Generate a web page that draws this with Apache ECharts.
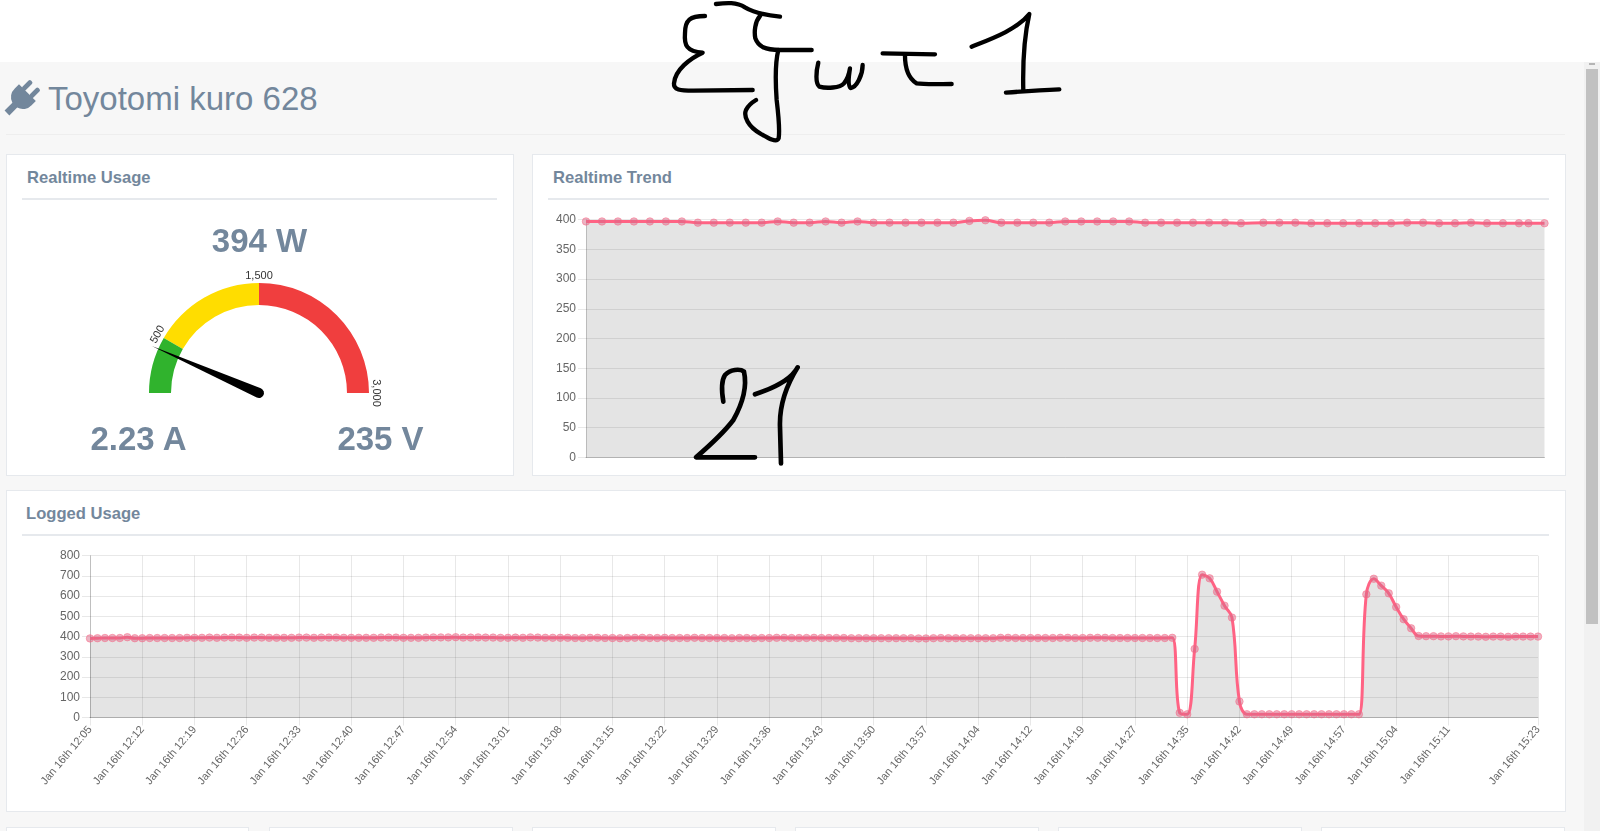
<!DOCTYPE html>
<html>
<head>
<meta charset="utf-8">
<title>Toyotomi kuro 628</title>
<script src="https://cdn.jsdelivr.net/npm/echarts@6/dist/echarts.min.js"></script>
<style>
  html, body { margin: 0; padding: 0; width: 1600px; height: 831px; overflow: hidden; background: #fff; }
  body { font-family: "Liberation Sans", Arial, sans-serif; color: #73879C; }
  .abs { position: absolute; }
  #bg { left: 0; top: 62px; width: 1584px; height: 769px; background: #F7F7F7; }
  #track { left: 1584px; top: 62px; width: 16px; height: 769px; background: #F1F1F1; }
  #thumb { left: 1586px; top: 69px; width: 12px; height: 555px; background: #C1C1C1; }
  #arrow { left: 1589px; top: 63px; width: 6px; height: 2px; background: #B5B5B5; }
  #heading { left: 48px; top: 79px; font-size: 33px; line-height: 40px; white-space: nowrap; }
  #headRule { left: 6px; top: 134px; width: 1559px; height: 1px; background: #EEEEEE; }
  .panel { background: #fff; border: 1px solid #E6E9ED; box-sizing: border-box; }
  .panelTitle { font-size: 16.6px; font-weight: bold; line-height: 20px; white-space: nowrap; }
  .rule { height: 2px; background: #E6E9ED; }
  .big { font-size: 33px; font-weight: bold; line-height: 40px; white-space: nowrap; transform: translateX(-50%); }
  .chart { z-index: 2; }
  #ink { left: 0; top: 0; z-index: 5; pointer-events: none; }
</style>
</head>
<body>
<div class="abs" id="bg"></div>
<div class="abs" id="track"></div>
<div class="abs" id="thumb"></div>
<div class="abs" id="arrow"></div>

<svg class="abs" style="left:0;top:0" width="60" height="140">
  <g fill="#73879C" transform="translate(22 98) rotate(45) scale(0.85) translate(-22 -99)">
    <rect x="13" y="77" width="5.5" height="14" rx="2"/>
    <rect x="25.5" y="77" width="5.5" height="14" rx="2"/>
    <path d="M8 90 H36 V97 A14 14 0 0 1 26 111 V124 H18 V111 A14 14 0 0 1 8 97 Z"/>
  </g>
</svg>
<div class="abs" id="heading">Toyotomi kuro 628</div>
<div class="abs" id="headRule"></div>

<div class="abs panel" style="left:6px;top:154px;width:508px;height:322px"></div>
<div class="abs panel" style="left:532px;top:154px;width:1034px;height:322px"></div>
<div class="abs panel" style="left:6px;top:490px;width:1560px;height:322px"></div>
<div class="abs panel" style="left:6px;top:827px;width:243px;height:20px"></div>
<div class="abs panel" style="left:269px;top:827px;width:244px;height:20px"></div>
<div class="abs panel" style="left:532px;top:827px;width:244px;height:20px"></div>
<div class="abs panel" style="left:795px;top:827px;width:244px;height:20px"></div>
<div class="abs panel" style="left:1058px;top:827px;width:244px;height:20px"></div>
<div class="abs panel" style="left:1321px;top:827px;width:244px;height:20px"></div>

<div class="abs panelTitle" style="left:27px;top:168px">Realtime Usage</div>
<div class="abs rule" style="left:22px;top:198px;width:475px"></div>
<div class="abs panelTitle" style="left:553px;top:168px">Realtime Trend</div>
<div class="abs rule" style="left:548px;top:198px;width:1001px"></div>
<div class="abs panelTitle" style="left:26px;top:504px">Logged Usage</div>
<div class="abs rule" style="left:22px;top:534px;width:1527px"></div>

<div class="abs chart" id="gauge" style="left:6px;top:155px;width:507px;height:320px"></div>
<div class="abs chart" id="trend" style="left:532px;top:155px;width:1033px;height:320px"></div>
<div class="abs chart" id="logged" style="left:6px;top:490px;width:1559px;height:322px"></div>

<div class="abs big" id="watts" style="left:259.5px;top:221px;z-index:3"></div>
<div class="abs big" id="amps" style="left:138.5px;top:418.5px;z-index:3"></div>
<div class="abs big" id="volts" style="left:380.5px;top:418.5px;z-index:3"></div>

<!-- handwriting scribbled over the screenshot -->
<svg class="abs" id="ink" width="1600" height="831" fill="none" stroke="#000" stroke-linecap="round" stroke-linejoin="round">
  <title>ξζωτ1 21</title>
  <g transform="translate(640 0) scale(0.3333)" stroke-width="13">
    <path d="M195 48 C150 48 135 60 135 100 C132 135 140 155 188 158 C150 175 105 210 102 250 C100 270 120 272 160 272 L338 270"/>
    <path d="M228 12 C260 8 290 6 315 22 C345 40 380 46 420 50"/>
    <path d="M360 48 C345 65 342 95 346 115 C355 140 375 150 420 150 L515 150"/>
    <path d="M415 150 C405 190 405 230 410 300 C416 350 420 390 416 415 C410 430 385 415 360 400 C325 380 310 350 318 330 C325 315 335 308 348 300"/>
    <path d="M535 188 C528 215 526 250 538 260 C560 266 600 264 612 250 C622 238 627 225 630 205 C626 230 624 258 632 264 C650 262 668 225 668 195"/>
    <path d="M728 160 L885 163"/>
    <path d="M795 165 C795 200 805 235 830 250 C855 254 900 252 935 252"/>
    <path d="M995 140 C1050 118 1130 90 1168 42 C1155 100 1148 190 1150 272"/>
    <path d="M1098 278 C1150 274 1210 270 1258 268"/>
  </g>
  <g transform="translate(670 350) scale(0.3333)" stroke-width="14">
    <path d="M160 155 C155 125 155 90 165 75 C180 58 210 55 222 65 C232 110 215 165 190 210 C160 250 115 290 78 322 L255 322"/>
    <path d="M255 133 C300 118 360 95 383 52 C350 105 328 170 330 230 L333 340"/>
  </g>
</svg>

<script>
// realtime usage readings
const watts = 394
const amps = 2.23
const volts = 235

// gauge scale
const gaugeMax = 3000
const gaugeSteps = 6
const gaugeStops = [500, 1500, 3000]
const gaugeColors = ['#30B32D', '#FFDD00', '#F03E3E']
const gaugeLabels = ['500', '1,500', '3,000']

// realtime trend, seconds since the window started and watts
const trendSeconds = [
  0, 5, 10, 15, 20, 25, 30, 35, 40, 45, 50, 55, 60, 65, 70, 75, 80, 85, 90, 95, 100,
  105, 110, 115, 120, 125, 130, 135, 140, 145, 150, 155, 160, 165, 170, 175, 180, 185, 190, 195, 200, 205,
  212, 217, 222, 227, 232, 237, 242, 247, 252, 257, 262, 267, 272, 277, 282, 287, 292, 295, 300
]
const trendWatts = [
  397, 397, 397, 397, 397, 397, 397, 395, 395, 395, 395, 395, 397, 395, 395, 397, 395, 397, 395, 395, 395,
  395, 395, 395, 398, 399, 395, 395, 395, 395, 397, 397, 397, 397, 397, 395, 395, 395, 395, 395, 395, 394,
  395, 395, 395, 394, 394, 394, 394, 394, 394, 395, 395, 394, 394, 395, 394, 394, 394, 394, 394
]
const trendTicks = [0, 400, 50]

// logged usage, one reading per slot, only some slots carry a tick label
const loggedTickStep = 7
const loggedTickLabels = [
  'Jan 16th 12:05', 'Jan 16th 12:12', 'Jan 16th 12:19', 'Jan 16th 12:26', 'Jan 16th 12:33', 'Jan 16th 12:40',
  'Jan 16th 12:47', 'Jan 16th 12:54', 'Jan 16th 13:01', 'Jan 16th 13:08', 'Jan 16th 13:15', 'Jan 16th 13:22',
  'Jan 16th 13:29', 'Jan 16th 13:36', 'Jan 16th 13:43', 'Jan 16th 13:50', 'Jan 16th 13:57', 'Jan 16th 14:04',
  'Jan 16th 14:12', 'Jan 16th 14:19', 'Jan 16th 14:27', 'Jan 16th 14:35', 'Jan 16th 14:42', 'Jan 16th 14:49',
  'Jan 16th 14:57', 'Jan 16th 15:04', 'Jan 16th 15:11'
]
const loggedLastLabel = 'Jan 16th 15:23'
const loggedWatts = [
  391, 392, 393, 393, 393, 397, 392, 392, 393, 393,
  393, 393, 393, 394, 394, 394, 395, 394, 395, 395,
  395, 394, 395, 395, 394, 394, 394, 394, 395, 395,
  394, 395, 395, 395, 394, 394, 394, 394, 394, 395,
  395, 395, 394, 394, 394, 395, 396, 396, 396, 397,
  395, 395, 396, 395, 395, 394, 394, 395, 394, 396,
  395, 394, 394, 394, 394, 393, 393, 394, 394, 393,
  393, 392, 393, 394, 394, 393, 393, 394, 393, 393,
  393, 394, 393, 393, 393, 393, 392, 393, 393, 392,
  393, 393, 394, 394, 393, 393, 393, 394, 393, 393,
  393, 393, 392, 392, 392, 392, 392, 392, 392, 392,
  392, 391, 391, 392, 393, 392, 392, 392, 392, 392,
  392, 392, 394, 394, 393, 393, 393, 393, 393, 393,
  394, 394, 393, 393, 394, 394, 394, 393, 393, 393,
  393, 393, 393, 393, 393, 394, 23, 16, 339, 706,
  688, 622, 553, 494, 79, 16, 16, 16, 16, 16,
  16, 16, 16, 16, 16, 16, 16, 16, 16, 16,
  16, 609, 686, 652, 614, 546, 486, 441, 403, 402,
  402, 401, 401, 402, 401, 400, 400, 399, 400, 400,
  399, 400, 400, 400, 400
]
const loggedTicks = [0, 800, 100]

document.getElementById('watts').textContent = watts + ' W'
document.getElementById('amps').textContent = amps + ' A'
document.getElementById('volts').textContent = volts + ' V'

const lineColor = '#FF6384'
const gridColor = 'rgba(0,0,0,0.09)'
const axisFont = { color: '#666', fontSize: 12, fontFamily: 'Liberation Sans' }

// series look shared by both line charts
const lineSeries = data => ({
  type: 'line',
  data: data,
  smooth: 0.4,
  showSymbol: true,
  showAllSymbol: true,
  symbol: 'circle',
  symbolSize: 7.5,
  clip: false,
  lineStyle: { color: lineColor, width: 3 },
  itemStyle: { color: 'rgba(215,105,135,0.5)', borderColor: 'rgba(255,99,132,0.5)', borderWidth: 1 },
  areaStyle: { color: 'rgba(0,0,0,0.105)', opacity: 1 },
  emphasis: { disabled: true }
})

const valueAxis = ticks => ({
  type: 'value',
  min: ticks[0],
  max: ticks[1],
  interval: ticks[2],
  axisLine: { show: true, lineStyle: { color: 'rgba(0,0,0,0.18)' } },
  axisTick: { show: true, length: 8, lineStyle: { color: gridColor } },
  axisLabel: { ...axisFont, margin: 10 },
  splitLine: { lineStyle: { color: gridColor } }
})

const gaugeChart = echarts.init(document.getElementById('gauge'))
gaugeChart.setOption({
  animation: false,
  series: [{
    type: 'gauge',
    center: [253, 238],
    radius: 110,
    startAngle: 180,
    endAngle: 0,
    min: 0,
    max: gaugeMax,
    splitNumber: gaugeSteps,
    axisLine: {
      lineStyle: {
        width: 22,
        color: gaugeStops.map((stop, i) => [stop / gaugeMax, gaugeColors[i]])
      }
    },
    axisTick: { show: false },
    splitLine: { show: false },
    axisLabel: {
      distance: -27,
      rotate: 'tangential',
      color: '#333',
      fontSize: 11,
      fontFamily: 'Liberation Sans',
      formatter: value => {
        const i = gaugeStops.indexOf(value)
        return i === -1 ? '' : gaugeLabels[i]
      }
    },
    pointer: {
      icon: 'path://M4.5 0 L9 100 A4.5 4.5 0 0 1 0 100 Z',
      length: 122,
      width: 10,
      offsetCenter: [0, 5],
      itemStyle: { color: '#000' }
    },
    title: { show: false },
    detail: { show: false },
    data: [{ value: watts }]
  }]
})

const trendChart = echarts.init(document.getElementById('trend'))
trendChart.setOption({
  animation: false,
  grid: { left: 54, top: 64.7, right: 20.5, bottom: 17.7 },
  xAxis: {
    type: 'value',
    min: 0,
    max: 300,
    axisLine: { show: true, onZero: false, lineStyle: { color: 'rgba(0,0,0,0.22)' } },
    axisTick: { show: false },
    axisLabel: { show: false },
    splitLine: { show: false }
  },
  yAxis: valueAxis(trendTicks),
  series: [lineSeries(trendSeconds.map((t, i) => [t, trendWatts[i]]))]
})

// slots without a tick label stay blank, the last reading always gets one
const loggedCategories = loggedWatts.map((v, i) => {
  if (i === loggedWatts.length - 1) return loggedLastLabel
  return i % loggedTickStep === 0 ? (loggedTickLabels[i / loggedTickStep] || '') : ''
})
const hasTick = (i, label) => label !== ''

const loggedChart = echarts.init(document.getElementById('logged'))
loggedChart.setOption({
  animation: false,
  grid: { left: 84, top: 65.7, right: 27, bottom: 94.5 },
  xAxis: {
    type: 'category',
    data: loggedCategories,
    boundaryGap: false,
    axisLine: { show: true, lineStyle: { color: 'rgba(0,0,0,0.22)' } },
    axisTick: { show: true, length: 8, interval: hasTick, lineStyle: { color: gridColor } },
    axisLabel: { ...axisFont, fontSize: 11, rotate: 50, margin: 10, interval: hasTick, hideOverlap: false },
    splitLine: { show: true, interval: hasTick, lineStyle: { color: gridColor } }
  },
  yAxis: valueAxis(loggedTicks),
  series: [lineSeries(loggedWatts)]
})
</script>
</body>
</html>
